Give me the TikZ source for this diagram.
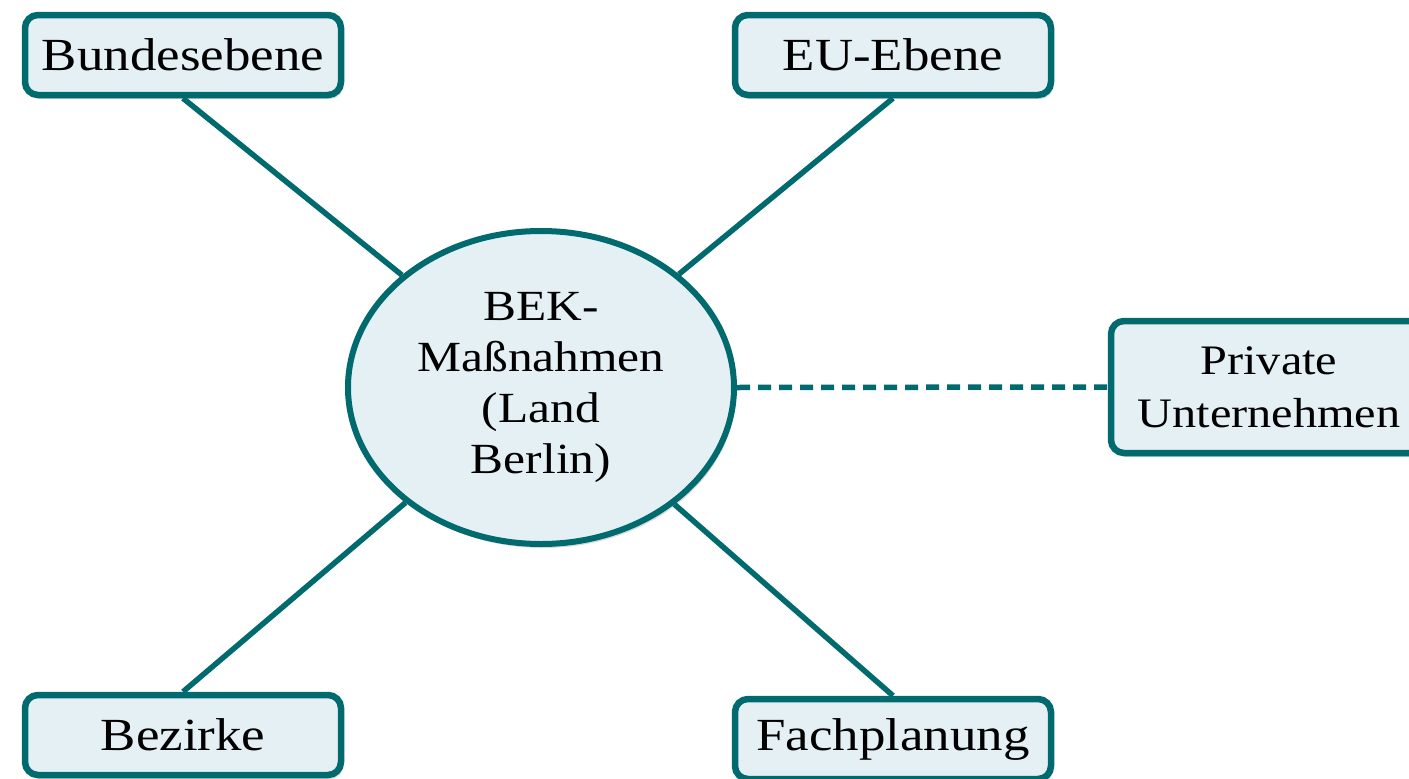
\documentclass[tikz,border=0pt]{standalone}
\usepackage{fontspec}
\setmainfont{Liberation Serif}[FakeStretch=1.15]
\usetikzlibrary{shapes.geometric,shadows}
\definecolor{teal1}{RGB}{0,106,110}
\definecolor{paleblue}{RGB}{229,240,245}
\tikzset{
  box/.style={draw=teal1, fill=paleblue, line width=6.5pt, rounded corners=13pt,
    minimum width=316pt, minimum height=80pt, inner sep=0pt, align=center,
    font=\fontsize{46}{53}\selectfont,
    drop shadow={opacity=0.3, shadow xshift=2pt, shadow yshift=-4pt}},
  hub/.style={ellipse, draw=teal1, fill=paleblue, line width=6pt,
    minimum width=386pt, minimum height=313pt, inner sep=0pt, align=center,
    font=\fontsize{43}{51}\selectfont,
    drop shadow={opacity=0.3, shadow xshift=2pt, shadow yshift=-4pt}},
  link/.style={draw=teal1, line width=5.5pt},
  dashlink/.style={draw=teal1, line width=5.5pt, dash pattern=on 13pt off 8pt}
}
\begin{document}
\begin{tikzpicture}[x=1pt,y=-1pt]
\useasboundingbox (0,0) rectangle (1409,779);
\clip (0,0) rectangle (1409,779);
\node[hub] (mid) at (541,387.5) {BEK-\\Maßnahmen\\(Land\\Berlin)};
\node[box] (bund) at (183,55) {Bundesebene};
\node[box] (eu) at (893,55) {EU-Ebene};
\node[box, minimum height=132pt, font=\fontsize{42}{53}\selectfont] (priv) at (1269,387) {Private\\Unternehmen};
\node[box] (bez) at (183,735) {Bezirke};
\node[box] (fach) at (893,739) {Fachplanung};
\draw[link] (bund.south) -- (mid);
\draw[link] (eu.south) -- (mid);
\draw[link] (bez.north) -- (mid);
\draw[link] (fach.north) -- (mid);
\draw[dashlink] (mid.east) -- (priv.west);
\end{tikzpicture}
\end{document}
